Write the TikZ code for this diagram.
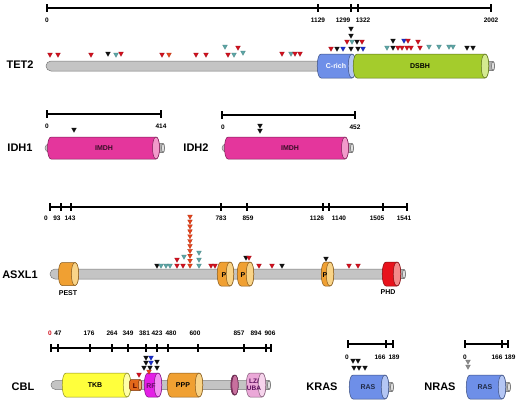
\documentclass[tikz,border=0pt]{standalone}
\usepackage{fontspec}
\setmainfont{Liberation Sans}
\definecolor{barg}{HTML}{C4C4C4}
\definecolor{barline}{HTML}{7A7A7A}
\definecolor{cblue}{HTML}{6E8FE8}
\definecolor{cbluel}{HTML}{B4C6F4}
\definecolor{cgreen}{HTML}{A4CC2C}
\definecolor{cgreenl}{HTML}{D4EA90}
\definecolor{cmag}{HTML}{E4369C}
\definecolor{cmagl}{HTML}{F29ACB}
\definecolor{corange}{HTML}{F0A032}
\definecolor{corangel}{HTML}{F9D488}
\definecolor{cred}{HTML}{E8121C}
\definecolor{credl}{HTML}{F48A8A}
\definecolor{cyel}{HTML}{FFFF3C}
\definecolor{cyell}{HTML}{FFFFA8}
\definecolor{cL}{HTML}{E2681A}
\definecolor{cLl}{HTML}{F2AA70}
\definecolor{cRF}{HTML}{E41EE6}
\definecolor{cRFl}{HTML}{F290F2}
\definecolor{cpink}{HTML}{EBA8D8}
\definecolor{cpinkl}{HTML}{F6D4EC}
\definecolor{cdisk}{HTML}{A23A78}
\definecolor{cdiskl}{HTML}{C8709E}
\definecolor{knobg}{HTML}{B0B0B0}
\definecolor{knobl}{HTML}{E4E4E4}
\definecolor{mred}{HTML}{D2101E}
\definecolor{mteal}{HTML}{5CA6A6}
\definecolor{mblack}{HTML}{111111}
\definecolor{mblue}{HTML}{1A2ECA}
\definecolor{morange}{HTML}{E6421A}
\definecolor{mgray}{HTML}{8C8C8C}
\tikzset{
  lbl/.style={font=\bfseries\fontsize{11}{11}\selectfont, inner sep=0pt},
  tick/.style={font=\bfseries\fontsize{6.5}{6.5}\selectfont, inner sep=0pt},
  dom/.style={font=\bfseries\fontsize{7}{7}\selectfont, inner sep=0pt},
  sc/.style={line width=1.1pt, black},
}
\newcommand\mut[3]{\fill[#3, draw=#3!75!black, line width=0.2pt] (#1-2.4,#2-2) -- (#1+2.4,#2-2) -- (#1,#2+2.3) -- cycle;}
\newcommand\backbone[4]{\filldraw[fill=barg, draw=barline, line width=0.5pt, rounded corners=#4] (#1,#3-#4) rectangle (#2,#3+#4);}
\newcommand\cyl[6]{%
  \pgfmathsetmacro\cylrx{0.42*#4}%
  \filldraw[fill=#5, draw=#5!55!black, line width=0.5pt] (#1,#3-#4) -- (#2,#3-#4) .. controls (#2+\cylrx,#3-#4) and (#2+\cylrx,#3+#4) .. (#2,#3+#4) -- (#1,#3+#4) .. controls (#1-\cylrx,#3+#4) and (#1-\cylrx,#3-#4) .. (#1,#3-#4) -- cycle;
  \filldraw[fill=#6, draw=#5!55!black, line width=0.5pt] (#2,#3-#4) .. controls (#2+\cylrx,#3-#4) and (#2+\cylrx,#3+#4) .. (#2,#3+#4) .. controls (#2-\cylrx,#3+#4) and (#2-\cylrx,#3-#4) .. (#2,#3-#4) -- cycle;
}
\newcommand\knob[3]{\cyl{#1}{#1+7}{#2}{#3}{knobg}{knobl}}
\newcommand\scaleline[4]{%
  \draw[sc] (#2,#1) -- (#3,#1);
  \foreach \tk in {#4} {\draw[sc] (\tk,#1-4) -- (\tk,#1+4);}
}
\begin{document}
\begin{tikzpicture}[x=1pt,y=-1pt]
\useasboundingbox (0,0) rectangle (520,402);
\fill[white] (0,0) rectangle (520,402);

% ================= TET2 =================
\scaleline{8}{47}{491}{47,318,351,358,491}
\node[tick] (t2a) at (47,20) {0};
\node[tick] (t2b) at (318,20) {1129};
\node[tick] (t2c) at (343,20) {1299};
\node[tick] (t2d) at (363,20) {1322};
\node[tick] (t2e) at (491,20) {2002};
\node[lbl] (tet2) at (20,65) {TET2};
\backbone{46}{326}{66}{5}
\knob{486}{66}{4.5}
\cyl{321}{352}{66}{12}{cblue}{cbluel}
\cyl{357}{485}{66}{12}{cgreen}{cgreenl}
\node[dom, white] (crich) at (336,66) {C-rich};
\node[dom] (dsbh) at (420,66) {DSBH};
\foreach \x/\y/\c in {50/55/mred,58/55/mred,91/55/mred,108/54/mblack,116/55/mteal,121/54/mred,162/55/mred,169/55/morange,196/55/mred,206/55/mred,225/47/mteal,238/48/mred,228/55/mred,234/55/mteal,243/53/mteal,282/54/mred,291/54/mteal,295/54/mred,300/54/mred,331/49/mred,337/49/mblack,343/49/mblue,351/29/mblack,351/36/mblack,347/42/mred,352/42/mteal,357/42/mblack,362/42/mred,351/49/mblack,358/49/mblack,363/49/mblue,387/48/mteal,393/41/mblack,393/48/mblack,398/48/mred,404/41/mblue,408/41/mred,402/48/mred,407/48/mred,411/48/mred,418/42/mred,420/48/mred,429/47/mteal,439/47/mteal,449/47/mteal,453/47/mteal,467/48/mblack,473/48/mblack}
  {\mut{\x}{\y}{\c}}

% ================= IDH1 / IDH2 =================
\scaleline{114}{47}{161}{47,161}
\node[tick] (i1a) at (47,126) {0};
\node[tick] (i1b) at (161,126) {414};
\node[lbl] (idh1) at (20,148) {IDH1};
\backbone{45}{60}{148}{4}
\knob{156}{148}{4.5}
\cyl{51}{156}{148}{11}{cmag}{cmagl}
\node[dom, text=black!75!cmag] (imdh1) at (104,148) {IMDH};
\mut{74}{130}{mblack}

\scaleline{115}{222}{355}{222,355}
\node[tick] (i2a) at (223,127) {0};
\node[tick] (i2b) at (355,127) {452};
\node[lbl] (idh2) at (196,148) {IDH2};
\backbone{222}{235}{148}{4}
\knob{345}{148}{4.5}
\cyl{228}{345}{148}{11}{cmag}{cmagl}
\node[dom, text=black!75!cmag] (imdh2) at (290,148) {IMDH};
\mut{260}{126}{mblack}
\mut{260}{131}{mblack}

% ================= ASXL1 =================
\scaleline{207}{50}{407}{50,61,71,221,247,323,329,383,407}
\node[tick] (a0) at (46,218) {0};
\node[tick] (a1) at (57,218) {93};
\node[tick] (a2) at (70,218) {143};
\node[tick] (a3) at (221,218) {783};
\node[tick] (a4) at (248,218) {859};
\node[tick] (a5) at (317,218) {1126};
\node[tick] (a6) at (339,218) {1140};
\node[tick] (a7) at (377,218) {1505};
\node[tick] (a8) at (404,218) {1541};
\node[lbl] (asxl1) at (20,275) {ASXL1};
\backbone{50}{388}{274}{5}
\knob{397}{274}{4.5}
\cyl{62}{75}{274}{11.5}{corange}{corangel}
\cyl{221}{230}{274}{12}{corange}{corangel}
\cyl{241}{250}{274}{12}{corange}{corangel}
\cyl{325}{330}{274}{12}{corange}{corangel}
\cyl{386}{397}{274}{12}{cred}{credl}
\node[dom] (pa) at (224,275) {P};
\node[dom] (pb) at (243,275) {P};
\node[dom] (pc) at (325,275) {P};
\node[dom] (pest) at (68,293) {PEST};
\node[dom] (phd) at (388,292) {PHD};
\foreach \x/\y/\c in {157/266/mblack,161/266/mteal,166/266/mteal,170/266/mteal,177/260/mred,177/266/mred,183/266/mred,184/257/mteal,199/253/mteal,199/260/mteal,199/266/mteal,211/266/mred,215/266/mred,246/258/mblack,249/258/mred,259/266/mred,272/266/mred,282/266/mblack,326/259/mblack,349/266/mred,358/266/mred}
  {\mut{\x}{\y}{\c}}
\foreach \i in {0,...,10} {\mut{190}{217+4.9*\i}{morange}}

% ================= CBL =================
\scaleline{348}{51}{271}{51,58,90,112,128,146,157,168,198,244,266,271}
\node[tick, text=mred] (c0) at (50,333) {0};
\node[tick] (c1) at (58,333) {47};
\node[tick] (c2) at (89,333) {176};
\node[tick] (c3) at (112,333) {264};
\node[tick] (c4) at (128,333) {349};
\node[tick] (c5) at (144.5,333) {381};
\node[tick] (c6) at (157,333) {423};
\node[tick] (c7) at (171,333) {480};
\node[tick] (c8) at (195,333) {600};
\node[tick] (c9) at (239,333) {857};
\node[tick] (c10) at (256,333) {894};
\node[tick] (c11) at (270,333) {906};
\node[lbl] (cbl) at (23,387) {CBL};
\backbone{51}{262}{385}{4.5}
\knob{262}{385}{4.5}
\cyl{66}{127}{385}{12}{cyel}{cyell}
\cyl{131}{140}{385}{5.5}{cL}{cLl}
\cyl{148}{158}{385}{12}{cRF}{cRFl}
\cyl{171}{199}{385}{12}{corange}{corangel}
\cyl{234}{235}{385}{10}{cdisk}{cdiskl}
\cyl{250}{262}{385}{12}{cpink}{cpinkl}
\node[dom] (tkb) at (95,385) {TKB};
\node[dom, text=black!70!red] (ldom) at (135,386) {L};
\node[dom, text=black!55!cRF] (rf) at (151,386) {RF};
\node[dom] (ppp) at (183,385) {PPP};
\node[dom, text=black!60!cRF, align=center, font=\bfseries\fontsize{6.5}{7}\selectfont] (lz) at (254,385) {LZ/\\UBA};
\foreach \x/\y/\c in {139/375/mred,146/358/mblack,151/358/mblue,146/363/mblack,151/363/mblue,157/362/mblack,144/368/mblack,150/368/mblack,157/368/mblack,149/372/morange}
  {\mut{\x}{\y}{\c}}

% ================= KRAS =================
\scaleline{344}{348}{393}{348,386,393}
\node[tick] (k0) at (347,357) {0};
\node[tick] (k1) at (380,357) {166};
\node[tick] (k2) at (394,357) {189};
\node[lbl] (kras) at (322,387) {KRAS};
\knob{385}{387}{4.5}
\cyl{353}{385}{387}{12}{cblue}{cbluel}
\node[dom, text=black!70!cblue] (ras1) at (368,387) {RAS};
\foreach \x/\y in {353/361,358/361,354/368,359/368,365/368} {\mut{\x}{\y}{mblack}}

% ================= NRAS =================
\scaleline{344}{465}{508}{465,502,508}
\node[tick] (n0) at (465,357) {0};
\node[tick] (n1) at (497,357) {166};
\node[tick] (n2) at (510,357) {189};
\node[lbl] (nras) at (440,387) {NRAS};
\knob{502}{387}{4.5}
\cyl{470}{502}{387}{12}{cblue}{cbluel}
\node[dom, text=black!70!cblue] (ras2) at (485,387) {RAS};
\mut{468}{362}{mgray}
\mut{468}{367}{mgray}
\end{tikzpicture}
\end{document}
